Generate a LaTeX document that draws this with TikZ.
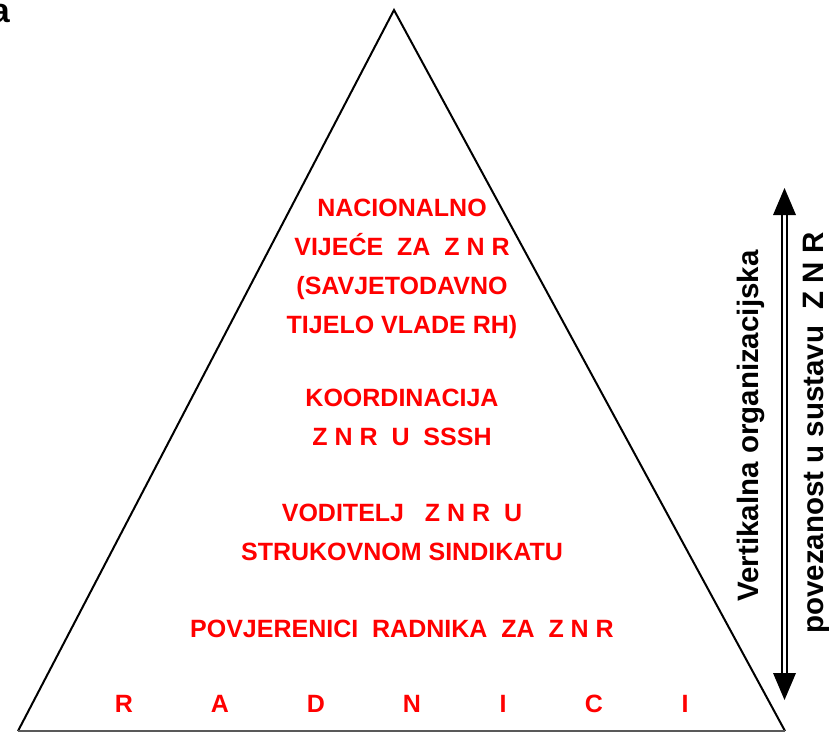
\documentclass[tikz,border=0pt]{standalone}
\usepackage{fontspec}
\setmainfont{Liberation Sans}

\begin{document}
\begin{tikzpicture}[x=1pt, y=-1pt]
\tikzstyle{t} = [text=red, font=\bfseries\fontsize{25}{39}\selectfont, align=center, inner sep=0pt, anchor=base]
\tikzstyle{s} = [font=\bfseries\fontsize{29.5}{29.5}\selectfont, rotate=90, inner sep=0pt, anchor=base]
\tikzstyle{e} = [draw=black, line width=2pt]

\useasboundingbox (0,0) rectangle (829,732);

\coordinate (T) at (394, 10);
\coordinate (L) at (18, 731);
\coordinate (R) at (785, 731);

\draw[e, line join=miter] (L) -- (T) -- (R);
\draw[e, draw=black!65] (L) -- (R);

\node[anchor=base east, inner sep=0pt, font=\bfseries\fontsize{34}{34}\selectfont] (a) at (10, 22) {a};

\node[t] (nv) at (402, 333) {NACIONALNO\\VIJEĆE~~ZA~~Z N R\\(SAVJETODAVNO\\TIJELO VLADE RH)};
\node[t] (ko) at (402, 445) {KOORDINACIJA\\Z N R~~U~~SSSH};
\node[t] (vo) at (402, 560) {VODITELJ~~~Z N R~~U\\STRUKOVNOM SINDIKATU};
\node[t] (po) at (402, 637) {POVJERENICI~~RADNIKA~~ZA~~Z N R};

\foreach \c/\x [count=\i] in {R/124, A/220, D/316, N/412, I/503, C/594, I/685}
  \node[t] (r\i) at (\x, 712) {\c};

% vertikalna strelica
\coordinate (up) at (784.5, 188);
\coordinate (dn) at (784.5, 700);
\draw[double, line width=2pt, double distance=3pt] ([yshift=-26pt]up) -- ([yshift=27pt]dn);
\fill (up) -- ++(-11.5, 27) -- ++(23, 0) -- cycle;
\fill (dn) -- ++(-11.5, -27) -- ++(23, 0) -- cycle;

\node[s] (v1) at (758, 426) {Vertikalna organizacijska};
\node[s] (v2) at (823, 433) {povezanost u sustavu~~Z N R};
\end{tikzpicture}
\end{document}
